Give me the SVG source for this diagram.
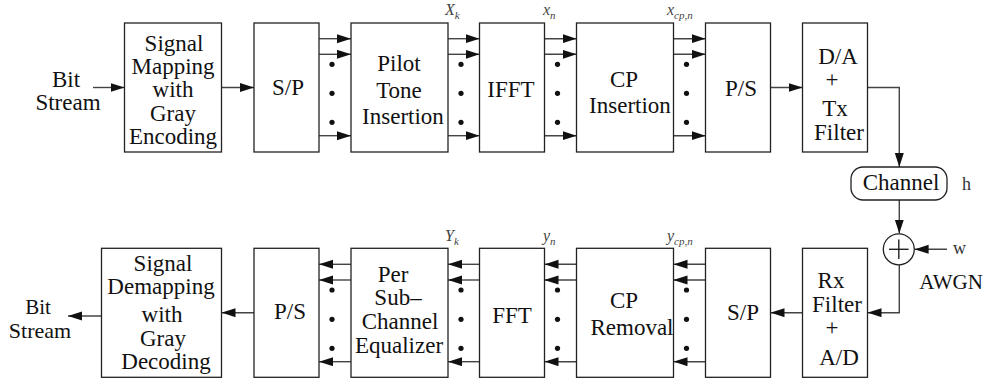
<svg xmlns="http://www.w3.org/2000/svg" width="995" height="380" viewBox="0 0 995 380" font-family="'Liberation Serif', 'Times New Roman', Tinos, 'DejaVu Serif', serif">
<style>
.box{fill:#fff;stroke:#222;stroke-width:1.3}
.t{font-family:'Liberation Serif','Times New Roman',Tinos,'DejaVu Serif',serif;font-size:23px;fill:#111;text-anchor:middle}
.s{font-family:'Liberation Serif','Times New Roman',Tinos,'DejaVu Serif',serif;font-size:18px;fill:#333}
.lab{font-family:'Liberation Serif','Times New Roman',Tinos,'DejaVu Serif',serif;font-style:italic;font-size:16px;fill:#444}
.sub{font-size:11px}
.ln{stroke:#444;stroke-width:1.4;fill:none}
.dot{fill:#111}
</style>
<defs>
<marker id="ah" markerUnits="userSpaceOnUse" markerWidth="14" markerHeight="10" refX="14" refY="4.5" orient="auto">
<path d="M0,0 L14,4.5 L0,9 Z" fill="#111"/>
</marker>
</defs>

<g id="connectors">
<line class="ln" x1="93" y1="87.5" x2="124.5" y2="87.5" marker-end="url(#ah)"/>
<line class="ln" x1="221.5" y1="87.5" x2="254" y2="87.5" marker-end="url(#ah)"/>
<line class="ln" x1="319" y1="38.7" x2="351" y2="38.7" marker-end="url(#ah)"/>
<line class="ln" x1="319" y1="54.3" x2="351" y2="54.3" marker-end="url(#ah)"/>
<line class="ln" x1="319" y1="135.7" x2="351" y2="135.7" marker-end="url(#ah)"/>
<circle class="dot" cx="332" cy="64.3" r="2.6"/><circle class="dot" cx="332" cy="93.3" r="2.6"/><circle class="dot" cx="332" cy="122.3" r="2.6"/>
<line class="ln" x1="448" y1="38.7" x2="479.5" y2="38.7" marker-end="url(#ah)"/>
<line class="ln" x1="448" y1="54.3" x2="479.5" y2="54.3" marker-end="url(#ah)"/>
<line class="ln" x1="448" y1="135.7" x2="479.5" y2="135.7" marker-end="url(#ah)"/>
<circle class="dot" cx="461" cy="64.3" r="2.6"/><circle class="dot" cx="461" cy="93.3" r="2.6"/><circle class="dot" cx="461" cy="122.3" r="2.6"/>
<line class="ln" x1="544.5" y1="38.7" x2="576.5" y2="38.7" marker-end="url(#ah)"/>
<line class="ln" x1="544.5" y1="54.3" x2="576.5" y2="54.3" marker-end="url(#ah)"/>
<line class="ln" x1="544.5" y1="135.7" x2="576.5" y2="135.7" marker-end="url(#ah)"/>
<circle class="dot" cx="557.5" cy="64.3" r="2.6"/><circle class="dot" cx="557.5" cy="93.3" r="2.6"/><circle class="dot" cx="557.5" cy="122.3" r="2.6"/>
<line class="ln" x1="673.5" y1="38.7" x2="705.5" y2="38.7" marker-end="url(#ah)"/>
<line class="ln" x1="673.5" y1="54.3" x2="705.5" y2="54.3" marker-end="url(#ah)"/>
<line class="ln" x1="673.5" y1="135.7" x2="705.5" y2="135.7" marker-end="url(#ah)"/>
<circle class="dot" cx="686.5" cy="64.3" r="2.6"/><circle class="dot" cx="686.5" cy="93.3" r="2.6"/><circle class="dot" cx="686.5" cy="122.3" r="2.6"/>
<line class="ln" x1="770.5" y1="87.5" x2="802.5" y2="87.5" marker-end="url(#ah)"/>
<polyline class="ln" points="867.5,87.5 899.3,87.5 899.3,167" marker-end="url(#ah)"/>
<line class="ln" x1="899.3" y1="200" x2="899.3" y2="233.6" marker-end="url(#ah)"/>
<line class="ln" x1="947" y1="249.3" x2="914.6" y2="249.3" marker-end="url(#ah)"/>
<polyline class="ln" points="899.3,265 899.3,312.7 867.5,312.7" marker-end="url(#ah)"/>
<line class="ln" x1="802.5" y1="312.7" x2="770.5" y2="312.7" marker-end="url(#ah)"/>
<line class="ln" x1="705.5" y1="264.3" x2="673.5" y2="264.3" marker-end="url(#ah)"/>
<line class="ln" x1="705.5" y1="280" x2="673.5" y2="280" marker-end="url(#ah)"/>
<line class="ln" x1="705.5" y1="361.7" x2="673.5" y2="361.7" marker-end="url(#ah)"/>
<circle class="dot" cx="686.5" cy="290" r="2.6"/><circle class="dot" cx="686.5" cy="319.3" r="2.6"/><circle class="dot" cx="686.5" cy="348.3" r="2.6"/>
<line class="ln" x1="576.5" y1="264.3" x2="544.5" y2="264.3" marker-end="url(#ah)"/>
<line class="ln" x1="576.5" y1="280" x2="544.5" y2="280" marker-end="url(#ah)"/>
<line class="ln" x1="576.5" y1="361.7" x2="544.5" y2="361.7" marker-end="url(#ah)"/>
<circle class="dot" cx="557.5" cy="290" r="2.6"/><circle class="dot" cx="557.5" cy="319.3" r="2.6"/><circle class="dot" cx="557.5" cy="348.3" r="2.6"/>
<line class="ln" x1="479.5" y1="264.3" x2="448" y2="264.3" marker-end="url(#ah)"/>
<line class="ln" x1="479.5" y1="280" x2="448" y2="280" marker-end="url(#ah)"/>
<line class="ln" x1="479.5" y1="361.7" x2="448" y2="361.7" marker-end="url(#ah)"/>
<circle class="dot" cx="461" cy="290" r="2.6"/><circle class="dot" cx="461" cy="319.3" r="2.6"/><circle class="dot" cx="461" cy="348.3" r="2.6"/>
<line class="ln" x1="351" y1="264.3" x2="319" y2="264.3" marker-end="url(#ah)"/>
<line class="ln" x1="351" y1="280" x2="319" y2="280" marker-end="url(#ah)"/>
<line class="ln" x1="351" y1="361.7" x2="319" y2="361.7" marker-end="url(#ah)"/>
<circle class="dot" cx="332" cy="290" r="2.6"/><circle class="dot" cx="332" cy="319.3" r="2.6"/><circle class="dot" cx="332" cy="348.3" r="2.6"/>
<line class="ln" x1="254" y1="312.7" x2="221.5" y2="312.7" marker-end="url(#ah)"/>
<line class="ln" x1="101.5" y1="316" x2="68" y2="316" marker-end="url(#ah)"/>
</g>

<g id="bitstream-in">
<text class="t" x="66" y="87">Bit</text>
<text class="t" x="68" y="110">Stream</text>
</g>
<g id="mapping">
<rect class="box" x="124.5" y="23" width="97" height="129"/>
<text class="t" x="174" y="51">Signal</text>
<text class="t" x="173" y="74">Mapping</text>
<text class="t" x="173" y="97">with</text>
<text class="t" x="173" y="121">Gray</text>
<text class="t" x="173" y="144">Encoding</text>
</g>
<g id="sp-tx">
<rect class="box" x="254" y="23" width="65" height="129"/>
<text class="t" x="288" y="95">S/P</text>
</g>
<g id="pilot">
<rect class="box" x="351" y="23" width="97" height="129"/>
<text class="t" x="399" y="71">Pilot</text>
<text class="t" x="399" y="98">Tone</text>
<text class="t" x="403" y="124">Insertion</text>
</g>
<g id="ifft">
<rect class="box" x="479.5" y="23" width="65" height="129"/>
<text class="t" x="511" y="97">IFFT</text>
</g>
<g id="cp-ins">
<rect class="box" x="576.5" y="23" width="97" height="129"/>
<text class="t" x="624" y="87">CP</text>
<text class="t" x="630" y="113">Insertion</text>
</g>
<g id="ps-tx">
<rect class="box" x="705.5" y="23" width="65" height="129"/>
<text class="t" x="741" y="96">P/S</text>
</g>
<g id="da">
<rect class="box" x="802.5" y="23" width="65" height="129"/>
<text class="t" x="838" y="64">D/A</text>
<text class="t" x="832" y="87">+</text>
<text class="t" x="835" y="116">Tx</text>
<text class="t" x="839" y="140">Filter</text>
</g>
<g id="channel">
<rect class="box" x="851" y="167" width="96" height="33" rx="12"/>
<text class="t" x="901" y="190">Channel</text>
<text class="s" x="962" y="190">h</text>
</g>
<g id="adder">
<circle class="box" cx="898.8" cy="249.3" r="15.5"/>
<line class="ln" x1="889" y1="249.3" x2="908.6" y2="249.3" style="stroke:#222"/>
<line class="ln" x1="898.8" y1="239.5" x2="898.8" y2="259.1" style="stroke:#222"/>
<text class="s" x="953" y="254">w</text>
<text class="t" x="951" y="289" style="font-size:21px">AWGN</text>
</g>
<g id="rx">
<rect class="box" x="802.5" y="248.3" width="65" height="129"/>
<text class="t" x="831" y="288">Rx</text>
<text class="t" x="837" y="312">Filter</text>
<text class="t" x="832" y="335">+</text>
<text class="t" x="839" y="365">A/D</text>
</g>
<g id="sp-rx">
<rect class="box" x="705.5" y="248.3" width="65" height="129"/>
<text class="t" x="743" y="320">S/P</text>
</g>
<g id="cp-rem">
<rect class="box" x="576.5" y="248.3" width="97" height="129"/>
<text class="t" x="624" y="308">CP</text>
<text class="t" x="632" y="335">Removal</text>
</g>
<g id="fft">
<rect class="box" x="479.5" y="248.3" width="65" height="129"/>
<text class="t" x="512" y="323">FFT</text>
</g>
<g id="equalizer">
<rect class="box" x="351" y="248.3" width="97" height="129"/>
<text class="t" x="393" y="282">Per</text>
<text class="t" x="398" y="305">Sub–</text>
<text class="t" x="400" y="329">Channel</text>
<text class="t" x="399" y="353">Equalizer</text>
</g>
<g id="ps-rx">
<rect class="box" x="254" y="248.3" width="65" height="129"/>
<text class="t" x="290" y="319">P/S</text>
</g>
<g id="demapping">
<rect class="box" x="101.5" y="248.3" width="120" height="129"/>
<text class="t" x="163" y="271">Signal</text>
<text class="t" x="161" y="294">Demapping</text>
<text class="t" x="162" y="322">with</text>
<text class="t" x="163" y="346">Gray</text>
<text class="t" x="166" y="369">Decoding</text>
</g>
<g id="bitstream-out">
<text class="t" x="38" y="314" style="font-size:21px">Bit</text>
<text class="t" x="40" y="338" style="font-size:22px">Stream</text>
</g>
<g id="labels">
<text class="lab" x="445" y="15">X<tspan class="sub" dy="4">k</tspan></text>
<text class="lab" x="543" y="15">x<tspan class="sub" dy="4">n</tspan></text>
<text class="lab" x="667" y="15">x<tspan class="sub" dy="4">cp,n</tspan></text>
<text class="lab" x="445" y="241">Y<tspan class="sub" dy="4">k</tspan></text>
<text class="lab" x="543" y="241">y<tspan class="sub" dy="4">n</tspan></text>
<text class="lab" x="667" y="241">y<tspan class="sub" dy="4">cp,n</tspan></text>
</g>
</svg>
